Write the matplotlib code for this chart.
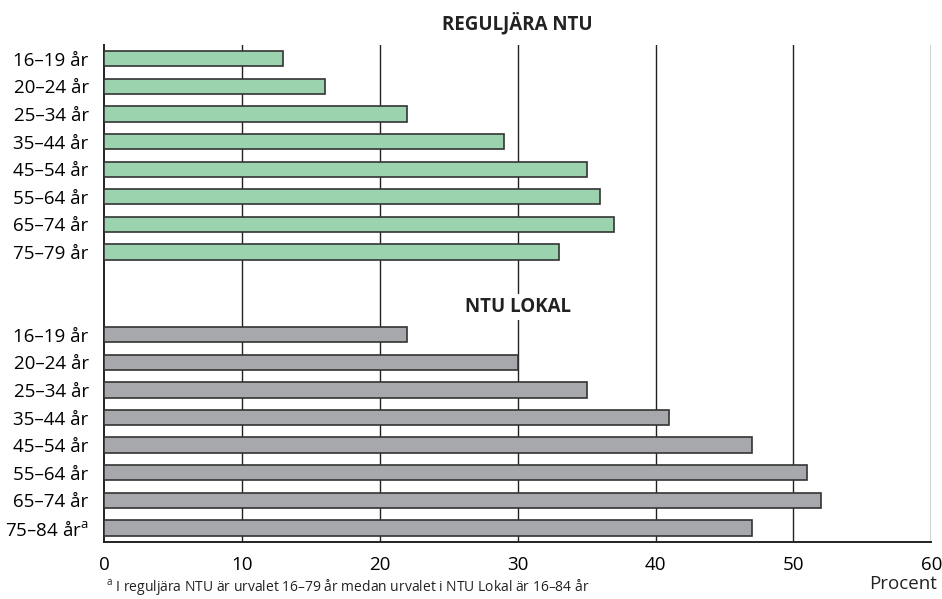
import matplotlib
matplotlib.use("Agg")
import matplotlib.pyplot as plt
import numpy as np

plt.rcParams['font.family'] = ['Open Sans', 'DejaVu Sans']

reg_labels = ["16–19 år", "20–24 år", "25–34 år", "35–44 år", "45–54 år", "55–64 år", "65–74 år", "75–79 år"]
reg_values = [13, 16, 22, 29, 35, 36, 37, 33]
lok_labels = ["16–19 år", "20–24 år", "25–34 år", "35–44 år", "45–54 år", "55–64 år", "65–74 år", "75–84 år$^{\\mathregular{a}}$"]
lok_values = [22, 30, 35, 41, 47, 51, 52, 47]
x_ticks = [0, 10, 20, 30, 40, 50, 60]

fig = plt.figure(figsize=(9.42, 5.99), dpi=100)
ax = fig.add_axes([0.1104, 0.0947, 0.8783, 0.8302])

reg_pos = np.arange(len(reg_values))
lok_pos = np.arange(len(lok_values)) + 10

ax.barh(reg_pos, reg_values, height=0.555, color="#9bd3ae", edgecolor="#333333", linewidth=1.2, zorder=3)
ax.barh(lok_pos, lok_values, height=0.555, color="#a7a8ab", edgecolor="#333333", linewidth=1.2, zorder=3)

ax.set_xlim(0, 60)
ax.set_ylim(17.52, -0.5)
ax.set_xticks(x_ticks)
ax.set_xticklabels([str(t) for t in x_ticks], fontsize=13.5)
ax.set_yticks(list(reg_pos) + list(lok_pos))
ax.set_yticklabels(reg_labels + lok_labels, fontsize=13.5)
ax.tick_params(axis='y', length=0, pad=11)
ax.tick_params(axis='x', length=0, pad=10)

for t in x_ticks[1:]:
    ax.axvline(t, color="#222222", linewidth=1.0, zorder=1)

for s in ['top', 'right']:
    ax.spines[s].set_visible(False)
ax.spines['left'].set_linewidth(1.4)
ax.spines['bottom'].set_linewidth(1.4)
ax.spines['left'].set_color("#222222")
ax.spines['bottom'].set_color("#222222")

ax.text(30, -1.3, "REGULJÄRA NTU", ha='center', va='center', fontsize=13.5, fontweight='bold', color="#222222")
ax.text(30, 9.0, "NTU LOKAL", ha='center', va='center', fontsize=13.5, fontweight='bold', color="#222222",
        bbox=dict(facecolor='white', edgecolor='none', pad=2), zorder=4)

fig.text(937/942, 1 - 584/599, "Procent", ha='right', va='center', fontsize=13.5, color="#222222")
fig.text(0.112, 1 - 597/599, "$^{\\mathregular{a}}$ I reguljära NTU är urvalet 16–79 år medan urvalet i NTU Lokal är 16–84 år",
         ha='left', va='bottom', fontsize=10, color="#222222")

fig.savefig("out.png", dpi=100)
